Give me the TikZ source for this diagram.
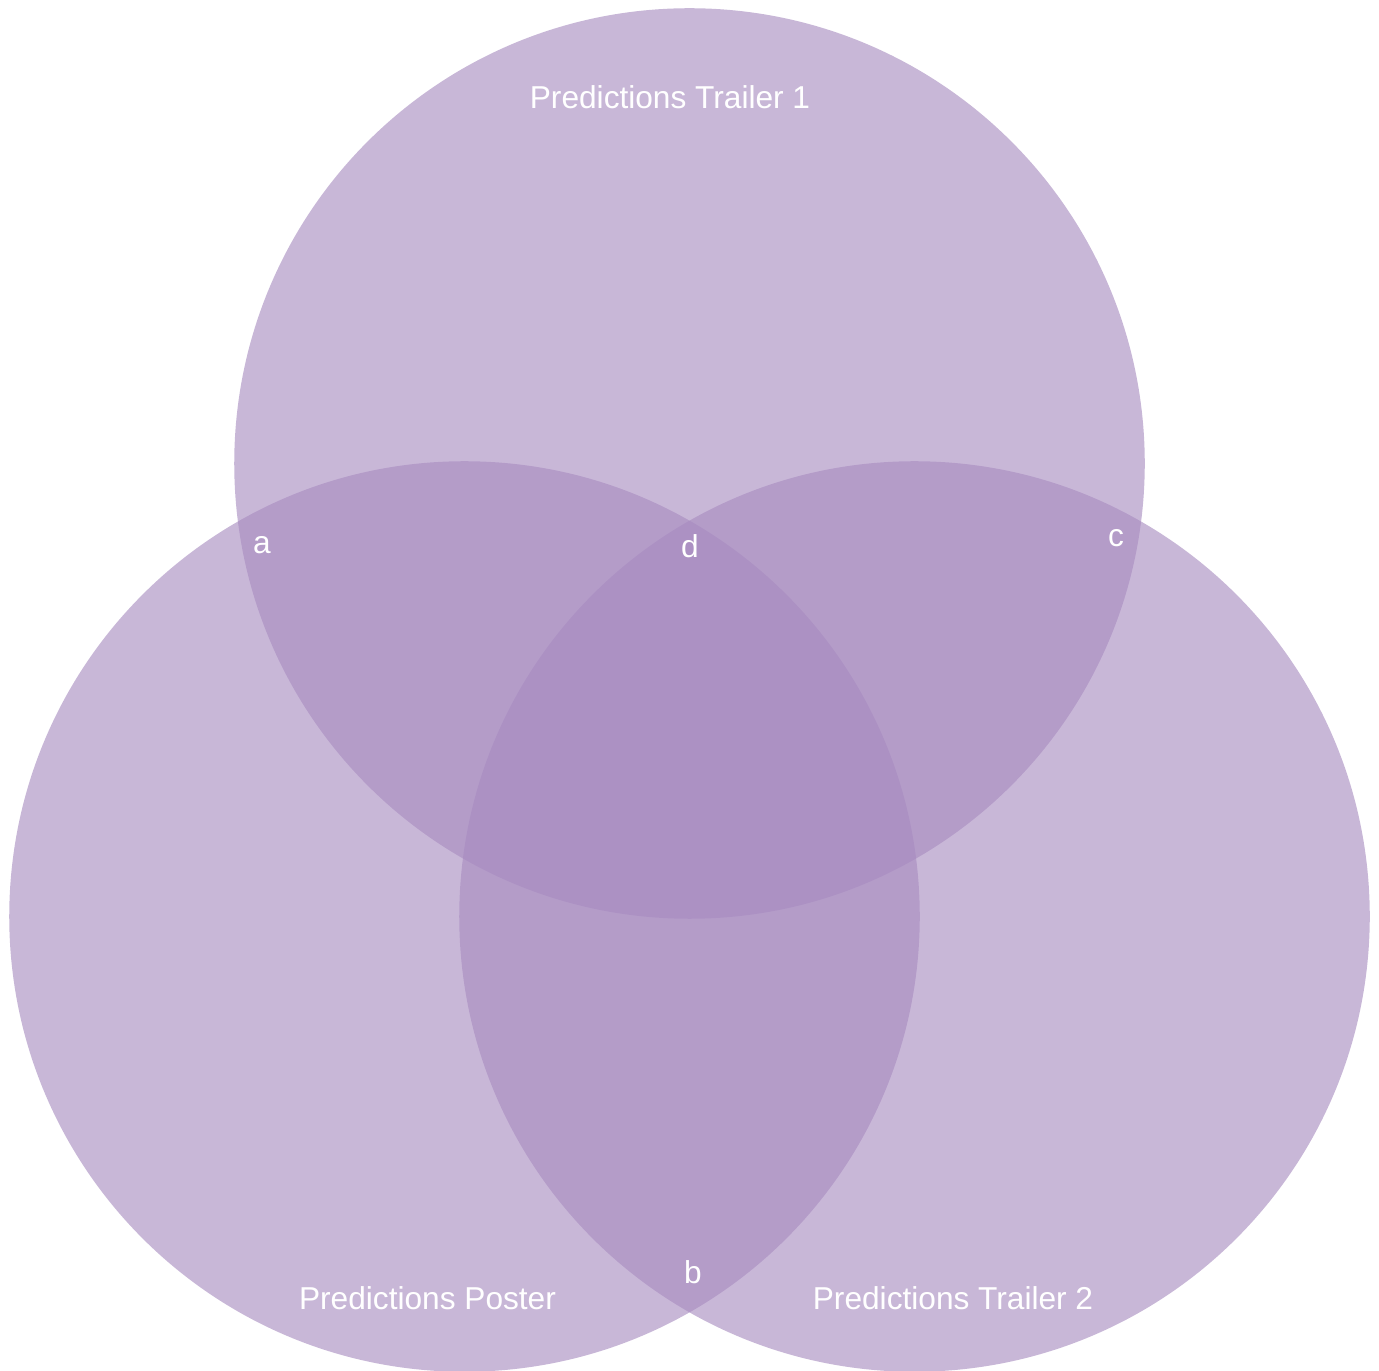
\documentclass[tikz,border=0pt]{standalone}
\usepackage{fontspec}
\setmainfont{Liberation Sans}
\usepackage{tikz}
\definecolor{cset}{RGB}{167,139,191}

\begin{document}
\begin{tikzpicture}[x=0.01cm, y=-0.01cm,
    setcirc/.style={circle, fill=cset, fill opacity=0.62, draw=none, inner sep=0pt, minimum size=9.1cm},
    setlab/.style={white, anchor=base, inner sep=0pt, font=\fontsize{9}{10}\selectfont}]
    \useasboundingbox (0,0) rectangle (1379,1371);
    \node[setcirc] (trailA) at (689.5,463.5) {};
    \node[setcirc] (poster) at (464.5,916.5) {};
    \node[setcirc] (trailB) at (914.5,916.5) {};
    \node[setlab] (labA) at (670,109) {Predictions Trailer 1};
    \node[setlab] (labP) at (427.5,1309) {Predictions Poster};
    \node[setlab] (labB) at (953,1309) {Predictions Trailer 2};
    \node[setlab] (ra) at (262,554) {a};
    \node[setlab] (rd) at (690,558) {d};
    \node[setlab] (rc) at (1116,547) {c};
    \node[setlab] (rb) at (693,1283) {b};
  \end{tikzpicture}
\end{document}
